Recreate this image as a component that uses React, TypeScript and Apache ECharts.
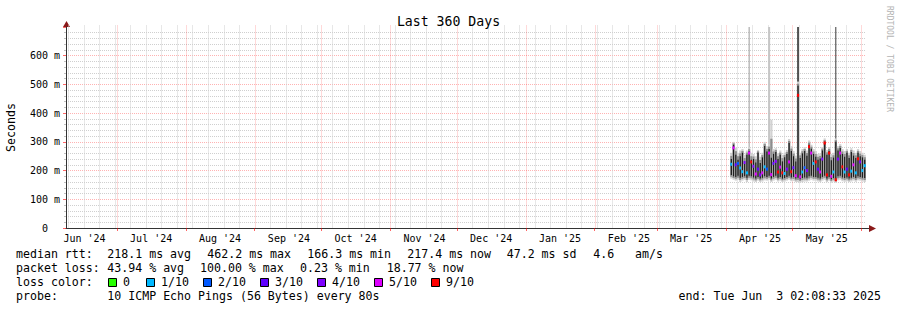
import React, { useEffect, useRef } from 'react';
import * as echarts from 'echarts';

const MONO = "'DejaVu Sans Mono', monospace";
const DAY = 86400000;
const END = Date.UTC(2025, 5, 3, 2, 8, 33);
const START = END - 360 * DAY;

const monthLabels = ["Jun '24", "Jul '24", "Aug '24", "Sep '24", "Oct '24", "Nov '24", "Dec '24", "Jan '25", "Feb '25", "Mar '25", "Apr '25", "May '25"];
const monthLabelDates = ['2024-06-16', '2024-07-16', '2024-08-16', '2024-09-16', '2024-10-16', '2024-11-16', '2024-12-16', '2025-01-16', '2025-02-16', '2025-03-16', '2025-04-16', '2025-05-16'];
const monthStarts = ['2024-07-01', '2024-08-01', '2024-09-01', '2024-10-01', '2024-11-01', '2024-12-01', '2025-01-01', '2025-02-01', '2025-03-01', '2025-04-01', '2025-05-01', '2025-06-01'];
const firstWeekLine = '2024-06-09';

// one value per day, starting at smokeStart
const smokeStart = '2025-04-03';
const smokeMin = [172, 168, 165, 168, 160, 165, 168, 160, 168, 166, 162, 160, 165, 160, 162, 166, 165, 168, 160, 165, 168, 162, 165, 160, 162, 165, 168, 163, 164, 160, 160, 158, 160, 162, 162, 165, 168, 165, 165, 162, 160, 165, 168, 160, 165, 158, 162, 158, 166, 168, 163, 161, 163, 160, 162, 165, 161, 166, 165, 162, 160];
const coreLow = [185, 180, 178, 182, 175, 178, 180, 175, 182, 180, 176, 172, 178, 172, 175, 180, 178, 182, 172, 178, 182, 175, 178, 172, 174, 178, 182, 176, 178, 172, 175, 170, 174, 176, 175, 180, 182, 178, 178, 175, 172, 178, 182, 172, 178, 170, 174, 168, 180, 182, 176, 174, 176, 172, 175, 178, 174, 180, 178, 175, 174];
const coreHigh = [240, 290, 255, 238, 250, 262, 232, 255, 268, 238, 240, 228, 262, 226, 246, 286, 266, 275, 245, 258, 265, 240, 255, 232, 246, 258, 296, 268, 250, 232, 495, 244, 260, 268, 252, 290, 276, 258, 248, 238, 242, 270, 300, 255, 268, 236, 245, 300, 270, 279, 258, 248, 262, 244, 265, 252, 244, 262, 250, 246, 238];
const smokeMax = [262, 300, 280, 262, 270, 275, 255, 270, 282, 262, 258, 250, 272, 248, 262, 300, 285, 292, 377, 275, 278, 260, 270, 255, 262, 272, 310, 285, 268, 252, 510, 262, 275, 282, 270, 305, 290, 275, 268, 258, 260, 282, 312, 272, 282, 258, 262, 312, 285, 292, 275, 268, 275, 262, 278, 270, 262, 275, 268, 262, 255];
const medianRtt = [222, 279, 220, 225, 209, 196, 228, 192, 261, 230, 215, 188, 205, 185, 192, 213, 205, 261, 186, 225, 232, 195, 212, 192, 190, 205, 230, 196, 210, 182, 462, 178, 195, 210, 200, 283, 261, 225, 230, 205, 195, 240, 296, 185, 261, 180, 195, 168, 240, 261, 213, 195, 205, 185, 198, 220, 192, 241, 230, 200, 217];
const lossTenths = [1, 5, 3, 2, 1, 1, 4, 1, 5, 9, 4, 5, 3, 4, 5, 1, 2, 5, 5, 3, 4, 9, 5, 9, 1, 4, 5, 9, 3, 5, 9, 5, 1, 2, 4, 9, 5, 1, 9, 3, 5, 4, 9, 9, 9, 5, 1, 9, 4, 5, 9, 1, 3, 9, 1, 5, 1, 9, 4, 1, 1];
const spikeDay = [8, 17, 30, 47];
const spikeTop = [760, 760, 760, 760];

const lossLevels = [0, 1, 2, 3, 4, 5, 9];
const lossLabels = ['0', '1/10', '2/10', '3/10', '4/10', '5/10', '9/10'];
const lossColors = ['#26ff00', '#00b8ff', '#0059ff', '#5e00ff', '#7e00ff', '#dd00ff', '#ff0000'];

const rttStats = ['218.1 ms avg', '462.2 ms max', '166.3 ms min', '217.4 ms now', '47.2 ms sd', '4.6', 'am/s'];
const lossStats = ['43.94 % avg', '100.00 % max', '0.23 % min', '18.77 % now'];
const probeText = '10 ICMP Echo Pings (56 Bytes) every 80s';
const endText = 'end: Tue Jun  3 02:08:33 2025';

// styles / layout
const rttX = [107.3, 207.3, 307.3, 407.3, 506.7, 593.3, 635];
const lossX = [107.3, 200, 300, 386.7];
const spikeColors = ['#9a9a9a', '#c6c6c6', '#2e2e2e', '#3a3a3a'];
const spikeWidths = [1, 2, 1.6, 1];
const MINOR_GRID = '#cfcfcf';
const MAJOR_GRID = 'rgba(255,0,0,0.3)';

const ts = (d: string) => Date.parse(d + 'T00:00:00Z');

function lossColor(l: number) {
  let c = lossColors[0];
  for (let i = 0; i < lossLevels.length; i++) if (l >= lossLevels[i]) c = lossColors[i];
  return c;
}

export default function App() {
  const ref = useRef<HTMLDivElement>(null);
  useEffect(() => {
    document.body.style.margin = '0';
    if (!ref.current) return;
    const chart = echarts.init(ref.current, undefined, { renderer: 'svg' });

    const labelTs = monthLabelDates.map((d) => ts(d) + 10 * 3600000);
    const monthTs = monthStarts.map(ts).filter((t) => t < END);
    const weekTs: number[] = [];
    for (let t = ts(firstWeekLine); t < END; t += 7 * DAY) {
      if (monthTs.indexOf(t) < 0) weekTs.push(t);
    }

    const s0 = ts(smokeStart);
    const n = Math.min(smokeMin.length, coreLow.length, coreHigh.length, smokeMax.length, medianRtt.length, lossTenths.length);
    const smokeData: number[][] = [];
    for (let i = 0; i < n; i++) {
      smokeData.push([s0 + i * DAY, smokeMin[i], coreLow[i], coreHigh[i], smokeMax[i], medianRtt[i], lossTenths[i]]);
    }
    const spikeData = spikeDay.map((d, k) => [s0 + d * DAY, spikeTop[k], coreHigh[d], k]);
    const gridData = [...weekTs.map((t) => [t, 0]), ...monthTs.map((t) => [t, 1])];

    const legendGraphics: any[] = [];
    let bx = 108;
    lossLabels.forEach((lab, i) => {
      legendGraphics.push({ type: 'rect', shape: { x: bx + 0.5, y: 278.5, width: 8, height: 8 }, style: { fill: lossColors[i], stroke: '#000', lineWidth: 1 } });
      legendGraphics.push({ type: 'text', x: bx + 15, y: 282.3, style: { text: lab, font: `11.6px ${MONO}`, fill: '#000', align: 'left', verticalAlign: 'middle', textAlign: 'left', textVerticalAlign: 'middle' } });
      bx = bx + 15 + lab.length * 7 + (lab.length === 1 ? 16 : 14);
    });

    const txt = (text: string, x: number, y: number, extra: any = {}) => ({
      type: 'text', x, y,
      style: { text, font: `11.6px ${MONO}`, fill: '#000', align: 'left', verticalAlign: 'middle', textAlign: 'left', textVerticalAlign: 'middle', ...extra },
    });

    const option: any = {
      animation: false,
      backgroundColor: '#ffffff',
      textStyle: { fontFamily: MONO },
      title: {
        text: 'Last 360 Days', left: 'center', top: 10,
        textStyle: { fontFamily: MONO, fontSize: 13.2, fontWeight: 'normal', color: '#000' },
      },
      grid: { left: 66, right: 31, top: 27, bottom: 82, containLabel: false, outerBoundsMode: 'none' },
      xAxis: {
        type: 'value', min: START, max: END,
        axisLine: { show: true, lineStyle: { color: '#333', width: 1 } },
        axisTick: { show: true, customValues: monthTs, length: 3, lineStyle: { color: 'rgba(255,0,0,0.6)' } },
        axisLabel: {
          customValues: labelTs,
          formatter: (v: number) => { const i = labelTs.indexOf(v); return i >= 0 ? monthLabels[i] : ''; },
          fontFamily: MONO, fontSize: 10, color: '#000', margin: 5,
        },
        splitLine: { show: false },
      },
      yAxis: {
        type: 'value', min: 0, max: 700, interval: 100,
        name: 'Seconds', nameLocation: 'middle', nameGap: 49, nameRotate: 90,
        nameTextStyle: { fontFamily: MONO, fontSize: 11.6, color: '#000' },
        axisLine: { show: true, onZero: false, lineStyle: { color: '#333', width: 1 } },
        axisTick: { show: true, length: 3, lineStyle: { color: 'rgba(255,0,0,0.6)' } },
        minorTick: { show: true, splitNumber: 5, length: 2, lineStyle: { color: '#c0c0c0' } },
        axisLabel: {
          showMaxLabel: false, margin: 6, fontFamily: MONO, fontSize: 10, color: '#000',
          formatter: (v: number) => (v === 0 ? '{z|0}' : v + ' m'),
          rich: { z: { fontFamily: MONO, fontSize: 10, color: '#000', padding: [0, 12, 0, 0] } },
        },
        splitLine: { show: true, showMaxLine: false, lineStyle: { color: MAJOR_GRID, type: [1, 1], width: 1 } },
        minorSplitLine: { show: true, lineStyle: { color: MINOR_GRID, type: [1, 1], width: 1 } },
      },
      series: [
        {
          type: 'custom', z: 1, silent: true, clip: false,
          data: gridData,
          encode: { x: 0 },
          renderItem: (params: any, api: any) => {
            const cs = params.coordSys;
            const x = Math.round(api.coord([api.value(0), 0])[0]) + 0.5;
            const major = api.value(1) === 1;
            return {
              type: 'line',
              shape: { x1: x, y1: cs.y - 1.5, x2: x, y2: cs.y + cs.height },
              style: { stroke: major ? MAJOR_GRID : MINOR_GRID, lineWidth: 1, lineDash: [1, 1] },
            };
          },
        },
        {
          type: 'custom', z: 3, clip: true, silent: true,
          data: spikeData,
          encode: { x: 0, y: 1 },
          renderItem: (params: any, api: any) => {
            const t = api.value(0);
            const k = api.value(3);
            const xc = api.coord([t + DAY / 2, 0])[0];
            const yTop = api.coord([t, api.value(1)])[1];
            const yBase = api.coord([t, api.value(2)])[1];
            const w = spikeWidths[k];
            return { type: 'rect', shape: { x: xc - w / 2, y: yTop, width: w, height: yBase - yTop }, style: { fill: spikeColors[k] } };
          },
        },
        {
          type: 'custom', z: 4, clip: true, silent: true,
          data: smokeData,
          encode: { x: 0, y: [1, 4] },
          renderItem: (params: any, api: any) => {
            const t = api.value(0);
            const lo = api.value(1), cl = api.value(2), ch = api.value(3), hi = api.value(4);
            const med = api.value(5), loss = api.value(6);
            const x0 = api.coord([t, 0])[0];
            const x1 = api.coord([t + DAY, 0])[0];
            const w = x1 - x0;
            const y = (v: number) => api.coord([t, v])[1];
            const mLo = (lo + cl) / 2, mHi = (ch + hi) / 2;
            return {
              type: 'group',
              children: [
                { type: 'rect', shape: { x: x0, y: y(hi), width: w, height: y(lo) - y(hi) }, style: { fill: '#d2d2d2' } },
                { type: 'rect', shape: { x: x0, y: y(mHi), width: w, height: y(mLo) - y(mHi) }, style: { fill: '#8e8e8e' } },
                { type: 'rect', shape: { x: x0 + 0.5, y: y(ch), width: w - 1.0, height: y(cl) - y(ch) }, style: { fill: '#1e1e1e' } },
                { type: 'rect', shape: { x: x0, y: y(med) - 1.5, width: w, height: 3 }, style: { fill: lossColor(loss) } },
              ],
            };
          },
        },
      ],
      graphic: [
        { type: 'polygon', shape: { points: [[66.5, 21], [63, 27], [70, 27]] }, style: { fill: '#8b1a1a' } },
        { type: 'line', shape: { x1: 866, y1: 228.5, x2: 870, y2: 228.5 }, style: { stroke: '#333', lineWidth: 1 } },
        { type: 'polygon', shape: { points: [[876, 228.5], [869, 225], [869, 232]] }, style: { fill: '#8b1a1a' } },
        {
          type: 'text', x: 889, y: 59, rotation: -Math.PI / 2,
          style: { text: 'RRDTOOL / TOBI OETIKER', font: `8px ${MONO}`, fill: '#b4b4b4', align: 'center', verticalAlign: 'middle', textAlign: 'center', textVerticalAlign: 'middle' },
        },
        txt('median rtt:', 16, 254.3),
        ...rttStats.map((s, i) => txt(s, rttX[i], 254.3)),
        txt('packet loss:', 16, 268.3),
        ...lossStats.map((s, i) => txt(s, lossX[i], 268.3)),
        txt('loss color:', 16, 282.3),
        ...legendGraphics,
        txt('probe:', 16, 296.3),
        txt(probeText, 107.3, 296.3),
        txt(endText, 881, 296.3, { align: 'right', textAlign: 'right' }),
      ],
    };

    chart.setOption(option);
    return () => chart.dispose();
  }, []);

  return <div ref={ref} style={{ width: 897, height: 310, display: 'block' }} />;
}
